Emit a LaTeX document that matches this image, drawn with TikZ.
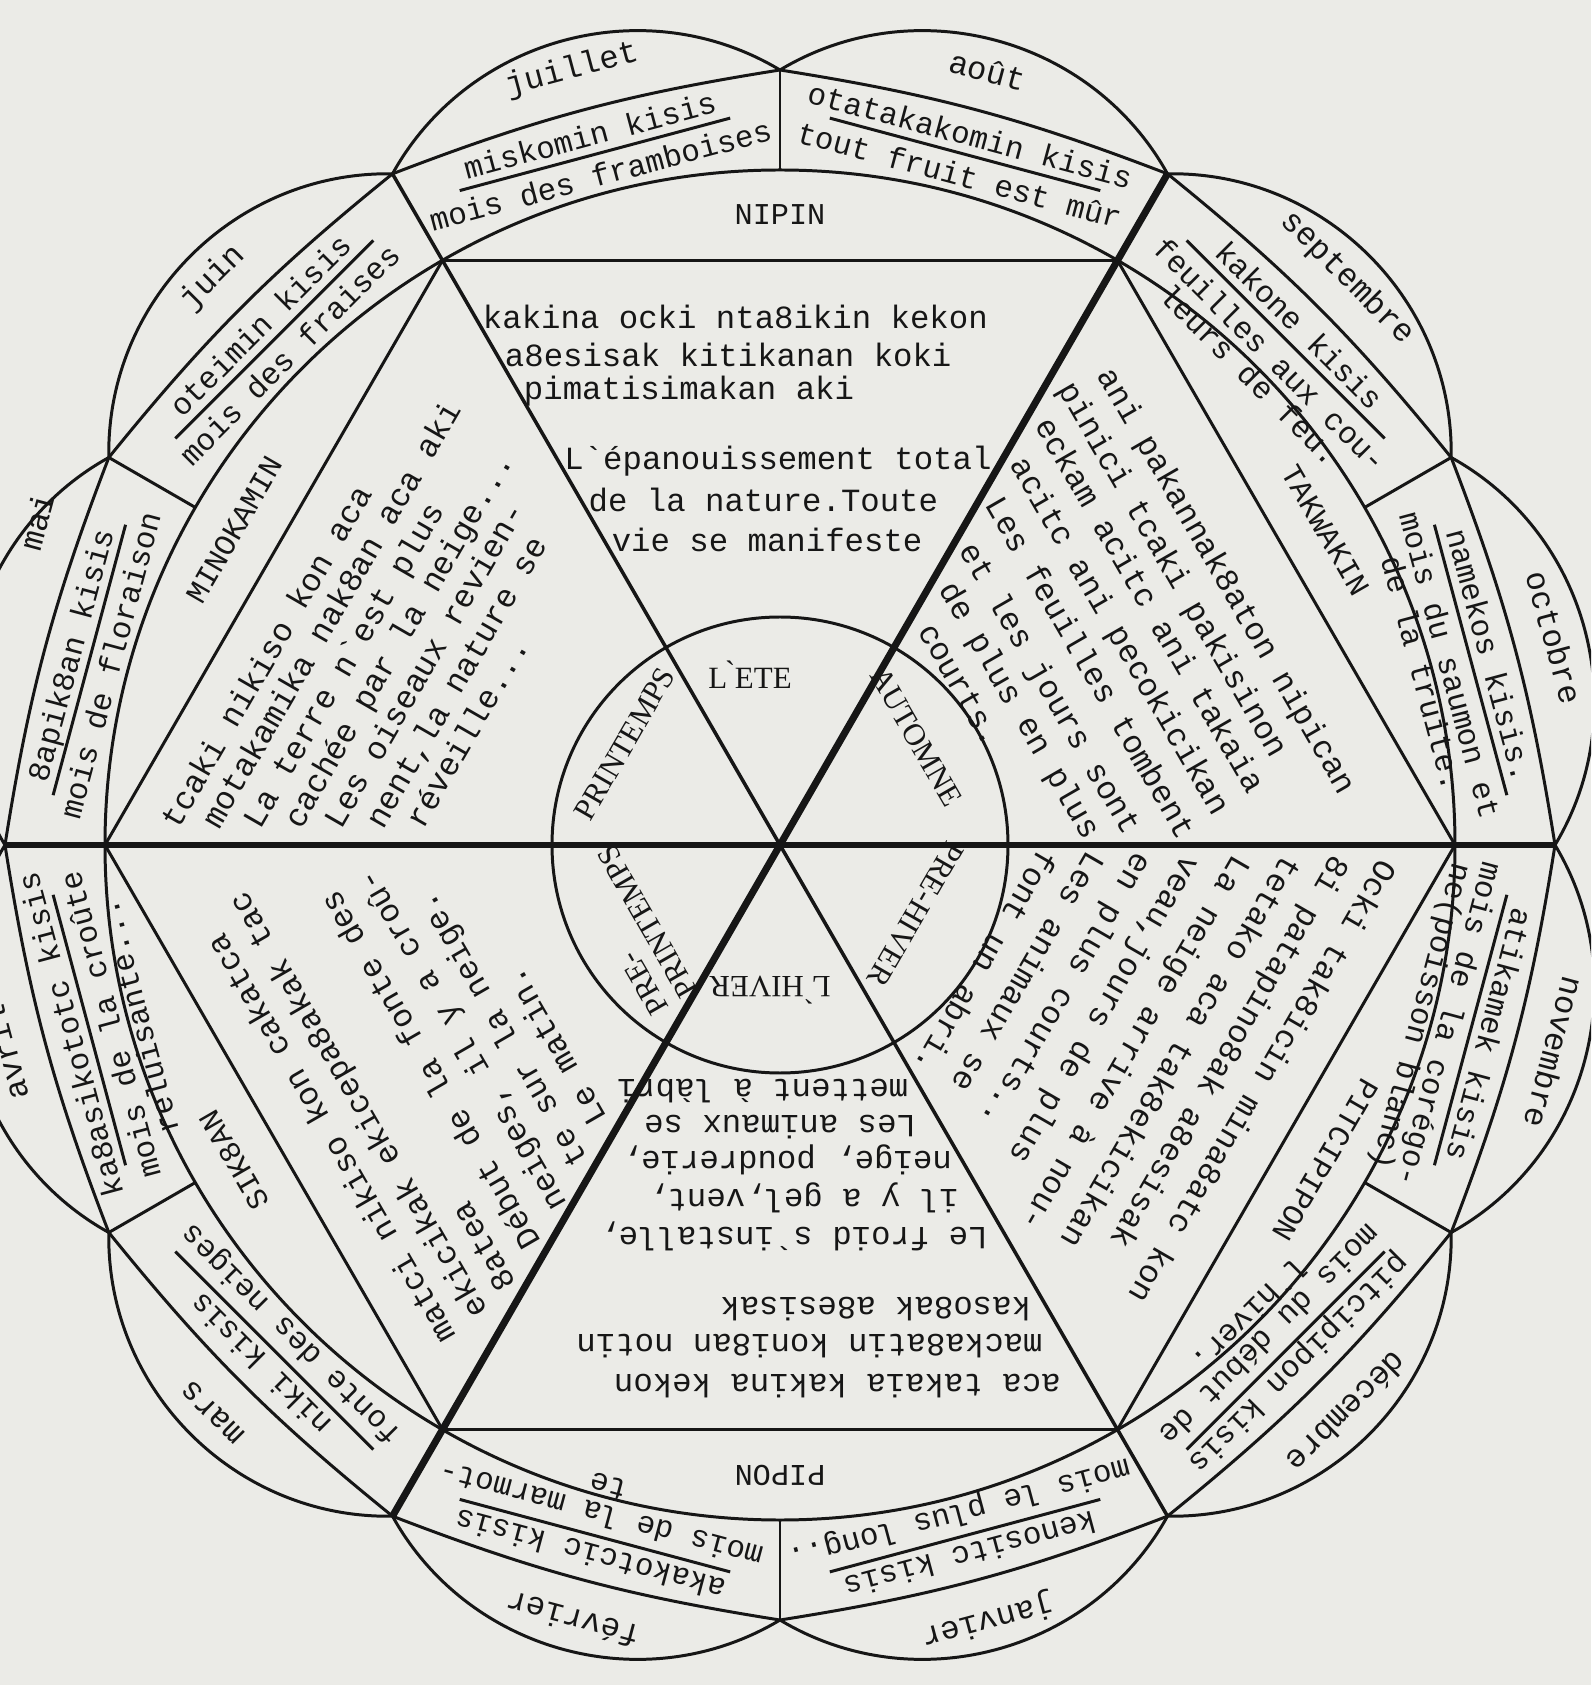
\documentclass[tikz,border=0pt]{standalone}
\usepackage{fontspec}
\setmonofont{Liberation Mono}
\newfontfamily\seasonfont{Liberation Serif}
\usetikzlibrary{calc}
\definecolor{Paper}{HTML}{EBEBE7}
\definecolor{Ink}{HTML}{161616}

\def\Rh{675}  % circle through the hexagon corners
\def\Rc{775}  % outer corners of the month cells
\def\Ri{228}  % inner circle

\tikzset{
  rim/.style={draw=Ink, line width=0.85pt},
  txt/.style={font=\ttfamily\fontsize{9.2}{8.6}\selectfont, text=Ink, inner sep=0pt},
  celltxt/.style={font=\ttfamily\fontsize{8.8}{8.2}\selectfont, text=Ink, inner sep=0pt},
  band/.style={font=\ttfamily\fontsize{8.6}{10}\selectfont, text=Ink, inner sep=0pt},
  saison/.style={font=\seasonfont\fontsize{8.8}{9.6}\selectfont, text=Ink, inner sep=0pt, align=left},
}

% one month: name in the petal, native name, underline, meaning
\newcommand\monthcell[6]{%
  \begin{scope}[rotate=#1]
    \node[txt] (#2-mois) at (#3,802) {#4};
    \node[celltxt, anchor=base] (#2-nom) at (0,724) {#5};
    \draw[rim] (-140,715) -- (140,715);
    \node[celltxt, align=center, anchor=north] (#2-sens) at (0,706) {#6};
  \end{scope}}
% one line of a triangle text, set from its slanted left side
\newcommand\triline[4]{%
  \node[txt, anchor=base west] (#1) at ({-0.5774*(#2+10)+#3},#2) {#4};}

\begin{document}
\begin{tikzpicture}[x=0.01cm, y=0.01cm]
  \useasboundingbox (-780,-840) rectangle (811,845);
  \fill[Paper] (-780,-840) rectangle (811,845);
  \clip (-780,-840) rectangle (811,845);

  % wheel
  \foreach \a in {0,60,...,300}
    \draw[rim] (\a:\Rh) -- (\a+60:\Rh);
  \draw[rim] (0,0) circle (\Rh);
  \draw[rim] (0,0) circle (\Ri);
  \foreach \a in {30,90,...,330}
    \draw[rim] (\a:\Rh) -- (\a:\Rc);
  \foreach \a in {0,30,...,330} {
    \draw[rim] (\a:\Rc) to[bend right=6] (\a+30:\Rc);
    \draw[rim] (\a:\Rc) to[bend right=46] (\a+30:\Rc);
  }
  % the three axes
  \draw[rim, line width=1.6pt] (180:\Rc) -- (0:\Rc);
  \draw[rim, line width=2pt] (240:\Rc) -- (60:\Rc);
  \draw[rim, line width=1pt] (300:\Rc) -- (120:\Rc);

  % NIPIN
  \begin{scope}[transform shape]
    \node[band] (nipin) at (0,630) {NIPIN};
    \node[saison] (ete) at (-30,170) {L\`{}ETE};
    \triline{nip1}{516}{6}{kakina ocki nta8ikin kekon}
    \triline{nip2}{478}{6}{a8esisak kitikanan koki}
    \triline{nip3}{445}{6}{pimatisimakan aki}
    \triline{nip4}{375}{6}{L`épanouissement total}
    \triline{nip5}{333}{6}{de la nature.Toute}
    \triline{nip6}{293}{6}{vie se manifeste}
    \monthcell{15}{juil}{0}{juillet}{miskomin kisis}{mois des framboises}
    \monthcell{-15}{aout}{0}{août}{otatakakomin kisis}{tout fruit est mûr}
  \end{scope}

  % TAKWAKIN
  \begin{scope}[rotate=-60, transform shape]
    \node[band] (takwakin) at (0,630) {TAKWAKIN};
    \node[saison] (automne) at (-25,172) {AUTOMNE};
    \triline{tak1}{509}{51}{ani pakannak8aton nipican}
    \triline{tak2}{468}{20}{pinici tcaki pakisinon}
    \triline{tak3}{430}{17}{eckam acitc ani takaia}
    \triline{tak4}{389}{15}{acitc ani pecokicikan}
    \triline{tak5}{347}{13}{Les feuilles tombent}
    \triline{tak6}{302}{14}{et les jours sont}
    \triline{tak7}{265}{16}{de plus en plus}
    \triline{tak8}{226}{19}{courts.}
    \monthcell{15}{sept}{0}{septembre}{kakone kisis}{feuilles aux cou-\\leurs de feu.}
    \monthcell{-15}{oct}{0}{octobre}{namekos kisis.}{mois du saumon et\\de la truite.}
  \end{scope}

  % PITCIPIPON
  \begin{scope}[rotate=-120, transform shape]
    \node[band] (pitcipipon) at (0,630) {PITCIPIPON};
    \node[saison] (prehiver) at (-8,152) {PRE-HIVER};
    \triline{pit1}{526}{20}{Ocki tak8icin mina8atc kon}
    \triline{pit2}{483}{15}{8i patapino8ak a8esisak}
    \triline{pit3}{440}{15}{tetako aca tak8ekicikan}
    \triline{pit4}{397}{15}{La neige arrive à nou-}
    \triline{pit5}{354}{15}{veau,jours de plus}
    \triline{pit6}{311}{12}{en plus courts..}
    \triline{pit7}{268}{10}{Les animaux se}
    \triline{pit8}{226}{8}{font un abri.}
    \monthcell{15}{nov}{0}{novembre}{atikamek kisis}{mois de la corégo-\\ne(poisson blanc)}
    \monthcell{-15}{dec}{0}{décembre}{pitcipipon kisis}{mois du début de\\l`hiver.}
  \end{scope}

  % PIPON
  \begin{scope}[rotate=180, transform shape]
    \node[band] (pipon) at (0,630) {PIPON};
    \node[saison] (hiver) at (10,145) {L\`{}HIVER};
    \triline{pip1}{529}{30}{aca takaia kakina kekon}
    \triline{pip2}{489}{25}{macka8atin koni8an notin}
    \triline{pip3}{452}{15}{kaso8ak a8esisak}
    \triline{pip4}{382}{18}{Le froid s`installe,}
    \triline{pip5}{344}{25}{il y a gel,vent,}
    \triline{pip6}{306}{10}{neige, poudrerie,}
    \triline{pip7}{270}{25}{Les animaux se}
    \triline{pip8}{234}{12}{mettent à làbri}
    \monthcell{15}{janv}{0}{janvier}{kenositc kisis}{mois le plus long..}
    \monthcell{-15}{fev}{0}{février}{akakotcic kisis}{mois de la marmot-\\te}
  \end{scope}

  % SIK8AN
  \begin{scope}[rotate=120, transform shape]
    \node[band] (sikan) at (0,630) {SIK8AN};
    \node[saison] (preprint) at (0,170) {PRE-\\PRINTEMPS};
    \triline{sik1}{525}{45}{matci nikiso kon cakatca}
    \triline{sik2}{485}{28}{ekicikak ekicepa8akak tac}
    \triline{sik3}{447}{15}{8atea}
    \triline{sik4}{405}{15}{Début de la fonte des}
    \triline{sik5}{363}{10}{neiges, il y a croû-}
    \triline{sik6}{323}{15}{te sur la neige.}
    \triline{sik7}{285}{20}{Le matin.}
    \monthcell{15}{mars}{0}{mars}{niki kisis}{fonte des neiges}
    \monthcell{-15}{avr}{0}{avril}{ka8asikototc kisis}{mois de la croûte\\reluisante...}
  \end{scope}

  % MINOKAMIN
  \begin{scope}[rotate=60, transform shape]
    \node[band] (minokamin) at (0,630) {MINOKAMIN};
    \node[saison] (printemps) at (10,185) {PRINTEMPS};
    \triline{min1}{528}{22}{tcaki nikiso kon aca}
    \triline{min2}{493}{22}{motakamika nak8an aca aki}
    \triline{min3}{457}{22}{La terre n`est plus}
    \triline{min4}{422}{22}{cachée par la neige...}
    \triline{min5}{387}{22}{Les oiseaux revien-}
    \triline{min6}{351}{22}{nent,la nature se}
    \triline{min7}{316}{22}{réveille...}
    \monthcell{15}{mai}{120}{mai}{8apik8an kisis}{mois de floraison}
    \monthcell{-15}{juin}{0}{juin}{oteimin kisis}{mois des fraises}
  \end{scope}
\end{tikzpicture}
\end{document}
